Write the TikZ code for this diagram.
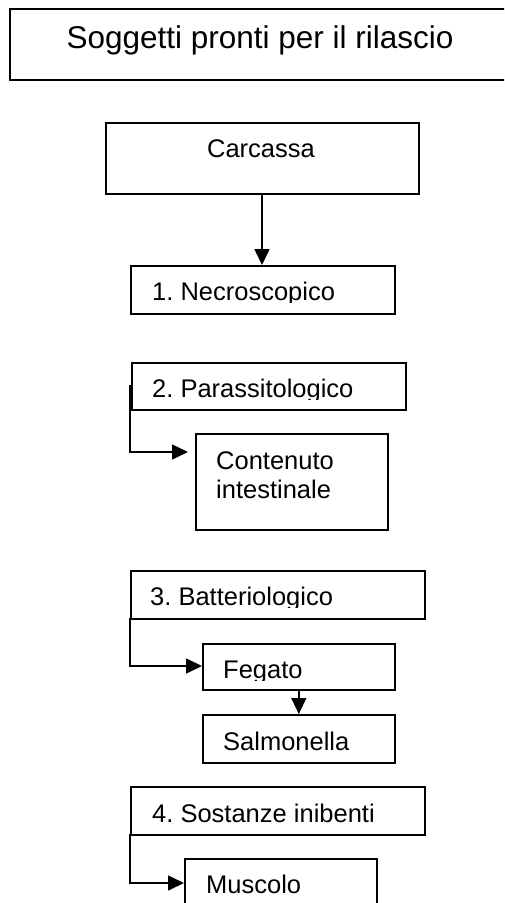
\documentclass[tikz,border=0pt]{standalone}
\usepackage{fontspec}
\setmainfont{Liberation Sans}
\usetikzlibrary{arrows.meta}
\frenchspacing
\tikzset{
  boxx/.style={draw, line width=1.6pt, inner sep=0pt},
  lbl/.style={anchor=base west, inner sep=0pt, font=\fontsize{25.5}{30}\selectfont},
  conn/.style={line width=1.6pt, -{Triangle[length=16pt,width=15pt]}},
}
\begin{document}
\begin{tikzpicture}[x=1pt,y=-1pt]
\useasboundingbox (0,0) rectangle (504,903);
\clip (0,0) rectangle (504,903);
\newcommand{\mkbox}[5]{% name, x1, y1, x2, y2
  \node[boxx, anchor=north west, minimum width=#4pt-#2pt, minimum height=#5pt-#3pt] (#1) at (#2,#3) {};
}
\mkbox{title}{9}{8}{520}{79}
\mkbox{carc}{105}{122}{418}{193}
\mkbox{necro}{130}{265}{394}{313}
\mkbox{paras}{131}{362}{405}{409}
\mkbox{cont}{195}{433}{387}{529}
\mkbox{batt}{130}{570}{424}{618}
\mkbox{feg}{202}{643}{394}{689}
\mkbox{salm}{202}{714}{394}{762}
\mkbox{sost}{130}{786}{424}{834}
\mkbox{musc}{184}{858}{376}{920}
% texts
\node[anchor=base, inner sep=0pt, font=\fontsize{31.5}{36}\selectfont] (ttitle) at (260,48) {Soggetti pronti per il rilascio};
\node[anchor=base, inner sep=0pt, font=\fontsize{25.5}{30}\selectfont] (tcarc) at (261,157) {Carcassa};
\begin{scope}
  \clip (130,265) rectangle (394,302);
  \node[lbl] (tnecro) at (152,300) {1. Necroscopico};
\end{scope}
\begin{scope}
  \clip (131,362) rectangle (405,399);
  \node[lbl] (tparas) at (152,397) {2. Parassitologico};
\end{scope}
\node[lbl] (tcont1) at (216,469) {Contenuto};
\node[lbl] (tcont2) at (216,498) {intestinale};
\begin{scope}
  \clip (130,570) rectangle (424,607);
  \node[lbl] (tbatt) at (150,605) {3. Batteriologico};
\end{scope}
\begin{scope}
  \clip (202,643) rectangle (394,680);
  \node[lbl] (tfeg) at (223,678) {Fegato};
\end{scope}
\node[lbl] (tsalm) at (223,750) {Salmonella};
\node[lbl] (tsost) at (152,822) {4. Sostanze inibenti};
\node[lbl] (tmusc) at (206,893) {Muscolo};
% connectors
\coordinate (c1) at (262,193);
\draw[conn] (c1) -- (c1 |- necro.north);
\coordinate (p0) at (130,385);
\coordinate (p1) at (130,452);
\coordinate (p2) at (188,452);
\draw[conn] (p0) -- (p1) -- (p2);
\coordinate (b0) at (130,618);
\coordinate (b1) at (130,666);
\draw[conn] (b0) -- (b1) -- (feg.west |- b1);
\draw[conn] (feg.south) -- (salm.north);
\coordinate (s0) at (130,834);
\coordinate (s1) at (130,883);
\draw[conn] (s0) -- (s1) -- (musc.west |- s1);
\end{tikzpicture}
\end{document}
